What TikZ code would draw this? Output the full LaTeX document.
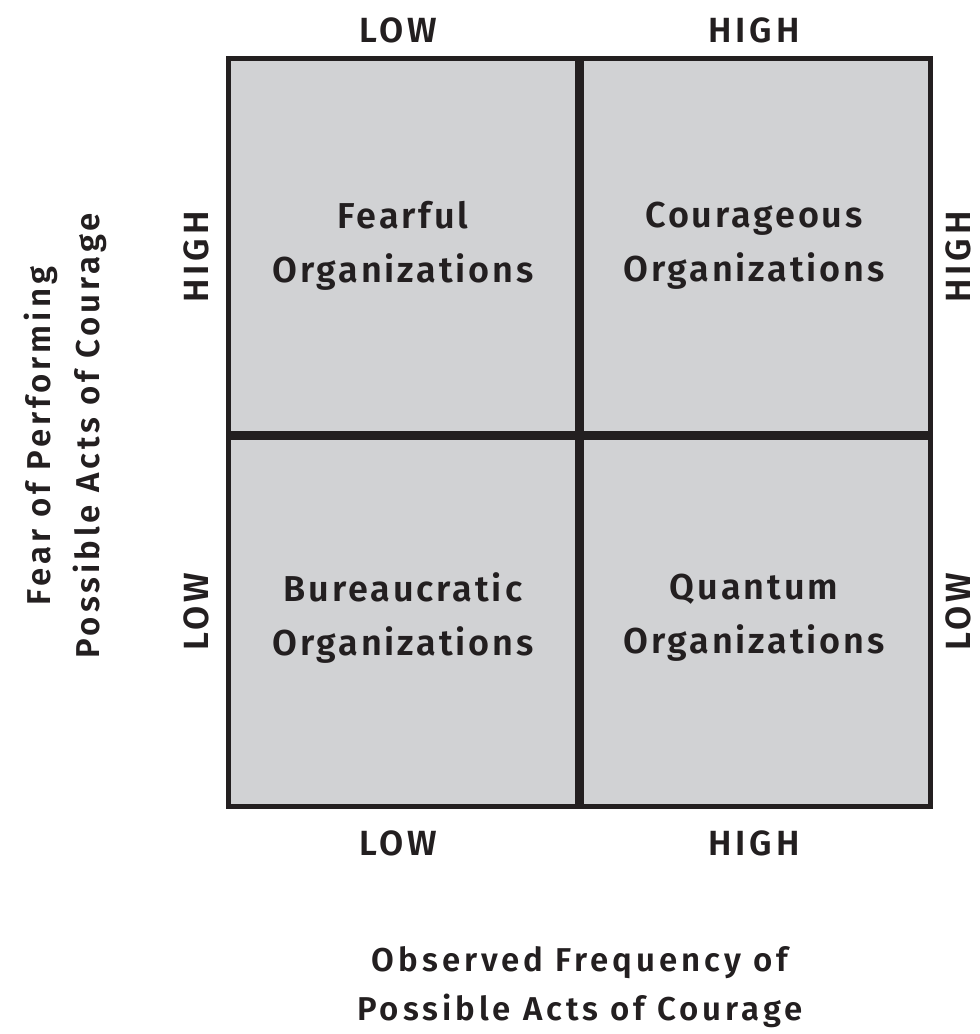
\documentclass[tikz,border=0pt]{standalone}
\usepackage{fontspec}
\setmainfont{Fira Sans SemiBold}
\newfontfamily\cellfont{Fira Sans SemiBold}[LetterSpace=8]
\newfontfamily\lblfont{Fira Sans SemiBold}[LetterSpace=11]
\newfontfamily\ttlfont{Fira Sans SemiBold}[LetterSpace=12]
\begin{document}
\begin{tikzpicture}[x=1pt,y=-1pt,
  lbl/.style={font=\lblfont\fontsize{35}{40}\selectfont, text=ink, inner sep=0pt},
  cell/.style={font=\cellfont\fontsize{36}{54}\selectfont, text=ink, align=center, inner sep=0pt},
  ttl/.style={font=\ttlfont\fontsize{33}{49}\selectfont, text=ink, align=center, inner sep=0pt}]
\definecolor{ink}{HTML}{231F20}
\definecolor{cellgray}{HTML}{D1D2D4}
\useasboundingbox (0,0) rectangle (980,1034);
% grid
\coordinate (tl) at (228,58);
\coordinate (br) at (930,806);
\coordinate (vt) at (579,58);
\coordinate (vb) at (579,806);
\coordinate (hl) at (228,435);
\coordinate (hr) at (930,435);
\fill[cellgray] (tl) rectangle (br);
\draw[ink, line width=5pt] (tl) rectangle (br);
\draw[ink, line width=9pt] (vt) -- (vb);
\draw[ink, line width=9pt] (hl) -- (hr);
% cell texts
\node[cell] (fear) at (403,246) {Fearful\\Organizations};
\node[cell] (cour) at (754,246) {Courageous\\Organizations};
\node[cell] (bur) at (403,618) {Bureaucratic\\Organizations};
\node[cell] (quan) at (754,618) {Quantum\\Organizations};
% top / bottom labels
\node[lbl] (tlow) at (398,30) {LOW};
\node[lbl] (thigh) at (754,30) {HIGH};
\node[lbl] (blow) at (398,843) {LOW};
\node[lbl] (bhigh) at (754,843) {HIGH};
% side labels
\node[lbl, rotate=90] (lhigh) at (196,257) {HIGH};
\node[lbl, rotate=90] (llow) at (196,612) {LOW};
\node[lbl, rotate=90] (rhigh) at (958,257) {HIGH};
\node[lbl, rotate=90] (rlow) at (958,612) {LOW};
% axis titles
\node[ttl, rotate=90] (ytitle) at (65,436) {Fear of Performing\\Possible Acts of Courage};
\node[ttl] (xtitle) at (580,987) {Observed Frequency of\\Possible Acts of Courage};
\end{tikzpicture}
\end{document}
